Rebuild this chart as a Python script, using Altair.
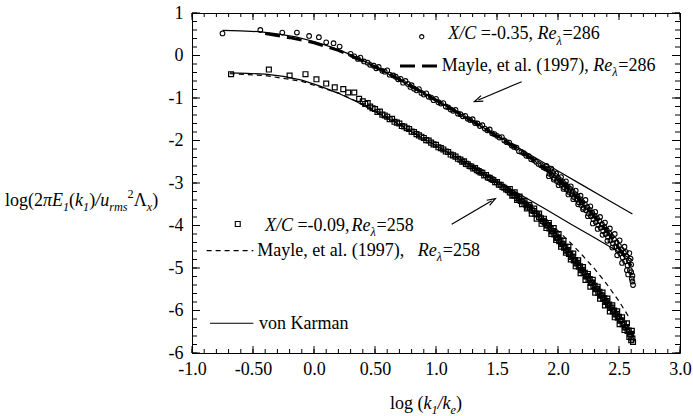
import math
import altair as alt
import pandas as pd

FONT = "Liberation Serif"
W, H = 488, 340

# ---------------- axis ticks ----------------
x_major = [-1.0, -0.5, 0.0, 0.5, 1.0, 1.5, 2.0, 2.5, 3.0]
x_tick_labels = ["-1.0", "-0.50", "0.0", "0.50", "1.0", "1.5", "2.0", "2.5", "3.0"]
x_minor = [round(-1.0 + 0.1 * i, 2) for i in range(41)]
y_major = [1, 0, -1, -2, -3, -4, -5, -6, -7]
y_tick_labels = ["1", "0", "-1", "-2", "-3", "-4", "-5", "-6", "-6"]
y_minor = [round(1.0 - 0.2 * i, 2) for i in range(41)]

# ---------------- curves ----------------
vk_hi_x = [-0.75, -0.6, -0.45, -0.3, -0.15, 0.0, 0.15, 0.3, 0.45, 0.6, 0.8, 1.0, 1.2, 1.4, 1.6, 1.8, 2.0, 2.2, 2.4, 2.61]
vk_hi_y = [0.59, 0.58, 0.56, 0.51, 0.44, 0.33, 0.19, 0.02, -0.19, -0.42, -0.73, -1.05, -1.38, -1.72, -2.05, -2.38, -2.72, -3.05, -3.38, -3.73]
vk_lo_x = [-0.69, -0.55, -0.4, -0.25, -0.1, 0.05, 0.2, 0.35, 0.5, 0.7, 0.9, 1.1, 1.3, 1.5, 1.7, 1.9, 2.1, 2.3, 2.45, 2.61]
vk_lo_y = [-0.41, -0.42, -0.44, -0.49, -0.58, -0.72, -0.89, -1.09, -1.32, -1.63, -1.96, -2.29, -2.62, -2.96, -3.29, -3.62, -3.96, -4.29, -4.54, -4.81]
mayle_hi_x = [-0.40, -0.2, 0.0, 0.2, 0.4, 0.6, 0.8, 1.0, 1.2, 1.4, 1.6, 1.8, 2.0, 2.2, 2.4, 2.6]
mayle_hi_y = [0.52, 0.42, 0.30, 0.12, -0.13, -0.41, -0.72, -1.05, -1.38, -1.72, -2.08, -2.46, -2.90, -3.45, -4.12, -4.95]
mayle_lo_x = [-0.69, -0.4, -0.1, 0.2, 0.5, 0.8, 1.1, 1.4, 1.7, 1.9, 2.0, 2.1, 2.2, 2.3, 2.4, 2.5, 2.58]
mayle_lo_y = [-0.43, -0.47, -0.61, -0.88, -1.28, -1.78, -2.28, -2.80, -3.34, -3.88, -4.12, -4.40, -4.70, -5.02, -5.38, -5.78, -6.15]

# ---------------- measured spectra ----------------
circles = [
    [-0.75, 0.52], [-0.44, 0.60], [-0.26, 0.54], [-0.14, 0.54], [-0.04, 0.46], [0.04, 0.43], [0.10, 0.31],
    [0.16, 0.29], [0.21, 0.21], [0.30, 0.04],
    [0.33, -0.02], [0.36, -0.08], [0.38, -0.05], [0.41, -0.14], [0.44, -0.17], [0.46, -0.22], [0.49, -0.24],
    [0.51, -0.30], [0.53, -0.27], [0.56, -0.36], [0.58, -0.38], [0.60, -0.35], [0.62, -0.45], [0.65, -0.47],
    [0.67, -0.50], [0.69, -0.56], [0.71, -0.55],
    [0.73, -0.64], [0.75, -0.60], [0.77, -0.67], [0.79, -0.74], [0.80, -0.70], [0.82, -0.78], [0.84, -0.82],
    [0.86, -0.79], [0.88, -0.88], [0.90, -0.92], [0.92, -0.89], [0.94, -0.97], [0.96, -0.99], [0.98, -1.05],
    [1.00, -1.02], [1.02, -1.10], [1.04, -1.13], [1.06, -1.12], [1.08, -1.20], [1.10, -1.22], [1.12, -1.27],
    [1.14, -1.30], [1.16, -1.28], [1.18, -1.37], [1.20, -1.38],
    [1.22, -1.43], [1.24, -1.42], [1.26, -1.49], [1.28, -1.52], [1.30, -1.50], [1.32, -1.59], [1.34, -1.60],
    [1.36, -1.66], [1.38, -1.64], [1.40, -1.72], [1.42, -1.76], [1.44, -1.74], [1.46, -1.83], [1.48, -1.85],
    [1.50, -1.89], [1.52, -1.93], [1.54, -1.92], [1.56, -2.00], [1.58, -2.04], [1.60, -2.05], [1.62, -2.12],
    [1.64, -2.15], [1.66, -2.17], [1.68, -2.25], [1.70, -2.27], [1.72, -2.30], [1.74, -2.36], [1.76, -2.37],
    [1.78, -2.44], [1.80, -2.46], [1.82, -2.50], [1.84, -2.55], [1.86, -2.58], [1.88, -2.63], [1.90, -2.66],
    [1.92, -2.68], [1.93, -2.78], [1.94, -2.72], [1.95, -2.82], [1.96, -2.76], [1.97, -2.88], [1.98, -2.83],
    [1.99, -2.95], [2.00, -2.88], [2.01, -2.99], [2.02, -2.93], [2.03, -3.04], [2.04, -2.98], [2.05, -3.10],
    [2.06, -3.03], [2.07, -3.15], [2.08, -3.08], [2.09, -3.21], [2.10, -3.14], [2.11, -3.26], [2.12, -3.20],
    [2.13, -3.33], [2.14, -3.26], [2.15, -3.38], [2.16, -3.31], [2.17, -3.45], [2.18, -3.38], [2.19, -3.52],
    [2.20, -3.45], [2.21, -3.58], [2.22, -3.50], [2.23, -3.64], [2.24, -3.57], [2.25, -3.72], [2.26, -3.63],
    [2.27, -3.78], [2.28, -3.70], [2.29, -3.85], [2.30, -3.77], [2.31, -3.92], [2.32, -3.83], [2.33, -3.99],
    [2.34, -3.90], [2.35, -4.05], [2.36, -3.97], [2.37, -4.13], [2.38, -4.04], [2.39, -4.20], [2.40, -4.11],
    [2.41, -4.27], [2.42, -4.18], [2.43, -4.35], [2.44, -4.26], [2.45, -4.42], [2.46, -4.33], [2.47, -4.50],
    [2.48, -4.40], [2.49, -4.58], [2.50, -4.48], [2.51, -4.66], [2.52, -4.56], [2.53, -4.75], [2.54, -4.64],
    [2.55, -4.84], [2.56, -4.72], [2.57, -4.94], [2.58, -4.82], [2.59, -5.05], [2.60, -4.92], [2.61, -5.18],
    [2.61, -5.32], [2.60, -5.10],
    [1.905, -2.60], [1.925, -2.84], [1.945, -2.66], [1.965, -2.92], [1.985, -2.78], [2.005, -3.05],
    [2.025, -2.86], [2.045, -3.14], [2.065, -2.96], [2.085, -3.27], [2.105, -3.08], [2.125, -3.38],
    [2.145, -3.18], [2.165, -3.50], [2.185, -3.30], [2.205, -3.62], [2.225, -3.40], [2.245, -3.78],
    [2.265, -3.55], [2.285, -3.95], [2.305, -3.68], [2.325, -4.08], [2.345, -3.80], [2.365, -4.22],
    [2.385, -3.93], [2.405, -4.36], [2.425, -4.07], [2.445, -4.52], [2.465, -4.20], [2.485, -4.70],
    [2.505, -4.35], [2.525, -4.88], [2.545, -4.50], [2.565, -5.05], [2.585, -4.65], [2.605, -5.25],
    [2.615, -5.40], [2.595, -4.78], [2.575, -5.15], [2.555, -4.62],
]

squares = [
    [-0.68, -0.44], [-0.37, -0.33], [-0.20, -0.47], [-0.07, -0.44], [0.02, -0.56], [0.10, -0.66],
    [0.17, -0.75], [0.24, -0.79], [0.28, -0.87], [0.33, -0.87], [0.37, -1.02],
    [0.40, -1.08], [0.42, -1.14], [0.44, -1.12], [0.46, -1.20], [0.48, -1.24], [0.50, -1.26], [0.52, -1.33],
    [0.54, -1.32], [0.56, -1.39], [0.58, -1.41], [0.60, -1.44], [0.62, -1.50], [0.64, -1.49], [0.66, -1.56],
    [0.68, -1.58], [0.70, -1.60], [0.72, -1.66], [0.74, -1.67], [0.76, -1.71], [0.78, -1.73], [0.80, -1.79],
    [0.82, -1.80], [0.84, -1.85], [0.86, -1.88], [0.88, -1.91], [0.90, -1.94], [0.92, -1.99], [0.94, -2.00],
    [0.96, -2.05], [0.98, -2.09], [1.00, -2.10], [1.02, -2.16], [1.04, -2.18], [1.06, -2.21], [1.08, -2.26],
    [1.10, -2.27], [1.12, -2.33], [1.14, -2.35], [1.16, -2.38], [1.18, -2.43], [1.20, -2.45],
    [1.215, -2.50], [1.23, -2.49], [1.245, -2.55], [1.26, -2.56], [1.275, -2.60], [1.29, -2.61],
    [1.305, -2.66], [1.32, -2.65], [1.335, -2.70], [1.35, -2.72], [1.365, -2.75], [1.38, -2.76],
    [1.395, -2.82], [1.41, -2.81], [1.425, -2.87], [1.44, -2.88], [1.455, -2.91], [1.47, -2.93],
    [1.485, -2.98], [1.50, -2.98], [1.515, -3.04], [1.53, -3.04], [1.545, -3.09], [1.56, -3.11],
    [1.575, -3.15], [1.59, -3.17], [1.605, -3.22], [1.62, -3.23], [1.635, -3.28], [1.65, -3.30],
    [1.665, -3.35], [1.68, -3.37], [1.695, -3.42], [1.71, -3.43], [1.725, -3.49], [1.74, -3.51],
    [1.755, -3.56], [1.77, -3.58], [1.785, -3.64], [1.80, -3.66], [1.815, -3.72], [1.83, -3.74],
    [1.845, -3.80], [1.86, -3.83], [1.875, -3.89], [1.89, -3.92],
    [1.90, -3.94], [1.91, -4.00], [1.92, -3.99], [1.93, -4.07], [1.94, -4.06], [1.95, -4.14], [1.96, -4.13],
    [1.97, -4.21], [1.98, -4.20], [1.99, -4.29], [2.00, -4.28], [2.01, -4.37], [2.02, -4.35], [2.03, -4.44],
    [2.04, -4.43], [2.05, -4.52], [2.06, -4.50], [2.07, -4.59], [2.08, -4.58], [2.09, -4.67], [2.10, -4.66],
    [2.11, -4.74], [2.12, -4.73], [2.13, -4.82], [2.14, -4.81], [2.15, -4.89], [2.16, -4.88], [2.17, -4.97],
    [2.18, -4.96], [2.19, -5.05], [2.20, -5.04], [2.21, -5.12], [2.22, -5.11], [2.23, -5.20], [2.24, -5.19],
    [2.25, -5.28], [2.26, -5.26], [2.27, -5.35], [2.28, -5.34], [2.29, -5.43], [2.30, -5.42], [2.31, -5.50],
    [2.32, -5.49], [2.33, -5.58], [2.34, -5.56], [2.35, -5.65], [2.36, -5.64], [2.37, -5.72], [2.38, -5.71],
    [2.39, -5.80], [2.40, -5.78], [2.41, -5.87], [2.42, -5.86], [2.43, -5.94], [2.44, -5.93], [2.45, -6.02],
    [2.46, -6.00], [2.47, -6.09], [2.48, -6.08], [2.49, -6.17], [2.50, -6.15], [2.51, -6.24], [2.52, -6.23],
    [2.53, -6.32], [2.54, -6.31], [2.55, -6.40], [2.56, -6.39], [2.57, -6.48], [2.58, -6.47], [2.59, -6.56],
    [2.60, -6.55], [2.61, -6.66], [2.60, -6.70],
    [1.605, -3.14], [1.625, -3.30], [1.645, -3.22], [1.665, -3.40], [1.685, -3.32], [1.705, -3.50],
    [1.725, -3.42], [1.745, -3.60], [1.765, -3.52], [1.785, -3.72], [1.805, -3.60], [1.825, -3.84],
    [1.845, -3.72], [1.865, -3.96], [1.885, -3.84], [1.905, -4.06], [1.925, -3.94], [1.945, -4.20],
    [1.965, -4.06], [1.985, -4.34], [2.005, -4.20], [2.025, -4.50], [2.045, -4.36], [2.065, -4.64],
    [2.085, -4.50], [2.105, -4.80], [2.125, -4.66], [2.145, -4.96], [2.165, -4.82], [2.185, -5.12],
    [2.205, -4.98], [2.225, -5.28], [2.245, -5.14], [2.265, -5.44], [2.285, -5.28], [2.305, -5.58],
    [2.325, -5.44], [2.345, -5.72], [2.365, -5.58], [2.385, -5.88], [2.405, -5.72], [2.425, -6.02],
    [2.445, -5.88], [2.465, -6.16], [2.485, -6.02], [2.505, -6.32], [2.525, -6.16], [2.545, -6.46],
    [2.565, -6.30], [2.585, -6.62], [2.605, -6.48], [2.615, -6.74],
]

# ---------------- in-plot legend / annotations (data coordinates) ----------------
legend_circle = [0.883, 0.442]
legend_square = [-0.625, -3.965]
legend_mayle_hi = [0.705, 1.008, -0.247]
legend_mayle_lo = [-0.880, -0.497, -4.590]
legend_vk = [-0.852, -0.497, -6.300]
arrow_hi = [1.702, -0.616, 1.347, -1.047]   # tail x, tail y, head x, head y
arrow_lo = [1.129, -3.972, 1.457, -3.416]
row1_anchor = [1.101, 0.500]
row2_anchor = [1.047, -0.247]
row3_anchor = [-0.402, -4.010]
row4_anchor = [-0.465, -4.600]
row5_anchor = [-0.451, -6.320]

row1 = [("X/C", "i"), (0.25, "gap"), ("=-0.35,", "r"), (0.25, "gap"), ("Re", "i"), ("λ", "si"), ("=286", "r")]
row2 = [("Mayle, et al. (1997),", "r"), (0.25, "gap"), ("Re", "i"), ("λ", "si"), ("=286", "r")]
row3 = [("X/C", "i"), (0.25, "gap"), ("=-0.09,", "r"), (0.1, "gap"), ("Re", "i"), ("λ", "si"), ("=258", "r")]
row4 = [("Mayle, et al. (1997),", "r"), (0.75, "gap"), ("Re", "i"), ("λ", "si"), ("=258", "r")]
row5 = [("von Karman", "r")]
ytitle = [("log(2", "r"), ("π", "i"), ("E", "i"), ("1", "si"), ("(", "r"), ("k", "i"), ("1", "si"),
          (")", "r"), ("/", "i"), ("u", "i"), ("rms", "si"), ("2", "sr"), ("Λ", "r"), ("x", "si"), (")", "r")]
xtitle = [("log", "r"), (0.25, "gap"), ("(", "r"), ("k", "i"), ("1", "si"), ("/", "i"), ("k", "i"),
          ("e", "si"), (")", "r")]

# ---------------- helpers ----------------
REG_W = {" ": 250, "(": 333, ")": 333, ",": 250, "-": 333, ".": 250, "/": 278, "=": 564,
         "M": 889, "K": 722, "a": 444, "e": 444, "l": 278, "m": 778, "n": 500, "o": 500,
         "r": 333, "t": 278, "v": 500, "y": 500, "g": 500, "k": 500, "Λ": 722, "π": 549}
IT_W = {"X": 611, "/": 278, "C": 667, "R": 611, "e": 444, "k": 444, "λ": 500, "E": 611,
        "u": 500, "r": 389, "m": 722, "s": 389, "x": 444, "π": 500, "(": 333, ")": 333}


def text_width(s, italic, size):
    table = IT_W if italic else REG_W
    return sum(table.get(ch, 500) for ch in s) / 1000.0 * size


xs = alt.Scale(domain=[-1, 3], nice=False, zero=False)
ys = alt.Scale(domain=[-7, 1], nice=False, zero=False)
x_lab_expr = "[" + ",".join("'%s'" % s for s in x_tick_labels) + "][round((datum.value + 1) * 2)]"
y_lab_expr = "[" + ",".join("'%s'" % s for s in y_tick_labels) + "][round(1 - datum.value)]"
x_axis = alt.Axis(values=x_major, labelExpr=x_lab_expr, ticks=False, domain=False, grid=False,
                  title=None, labelFont=FONT, labelFontSize=18, labelColor="black", labelPadding=7,
                  labelFlush=False, labelOverlap=False)
y_axis = alt.Axis(values=y_major, labelExpr=y_lab_expr, ticks=False, domain=False, grid=False,
                  title=None, labelFont=FONT, labelFontSize=18, labelColor="black", labelPadding=9,
                  labelFlush=False, labelOverlap=False)
X = alt.X("x:Q", scale=xs, axis=x_axis)
Y = alt.Y("y:Q", scale=ys, axis=y_axis)

layers = []

# tick marks (inward)
for vals, length in ((x_minor, 4), (x_major, 7)):
    d = pd.DataFrame({"x": vals})
    layers.append(alt.Chart(d).mark_rule(color="black", strokeWidth=1).encode(
        x=X, y=alt.value(H), y2=alt.value(H - length)))
    layers.append(alt.Chart(d).mark_rule(color="black", strokeWidth=1).encode(
        x=X, y=alt.value(0), y2=alt.value(length)))
for vals, length in ((y_minor, 5), (y_major, 8)):
    d = pd.DataFrame({"y": vals})
    layers.append(alt.Chart(d).mark_rule(color="black", strokeWidth=1).encode(
        y=Y, x=alt.value(0), x2=alt.value(length)))
    layers.append(alt.Chart(d).mark_rule(color="black", strokeWidth=1).encode(
        y=Y, x=alt.value(W), x2=alt.value(W - length)))


def line(xv, yv, **kw):
    return alt.Chart(pd.DataFrame({"x": xv, "y": yv})).mark_line(color="black", **kw).encode(x=X, y=Y)


layers.append(line(mayle_hi_x, mayle_hi_y, strokeWidth=3, strokeDash=[15, 7]))
layers.append(line(mayle_lo_x, mayle_lo_y, strokeWidth=1.2, strokeDash=[5, 4]))
layers.append(line(vk_hi_x, vk_hi_y, strokeWidth=1.2))
layers.append(line(vk_lo_x, vk_lo_y, strokeWidth=1.2))

circ_df = pd.DataFrame(circles, columns=["x", "y"])
sq_df = pd.DataFrame(squares, columns=["x", "y"])
layers.append(alt.Chart(circ_df).mark_point(shape="circle", filled=False, size=22, strokeWidth=1.1,
                                            color="black", opacity=1).encode(x=X, y=Y))
layers.append(alt.Chart(sq_df).mark_point(shape="square", filled=False, size=24, strokeWidth=1.2,
                                          color="black", opacity=1).encode(x=X, y=Y))

# legend symbols
layers.append(alt.Chart(pd.DataFrame({"x": [legend_circle[0]], "y": [legend_circle[1]]})).mark_point(
    shape="circle", filled=False, size=18, strokeWidth=1.1, color="black", opacity=1).encode(x=X, y=Y))
layers.append(alt.Chart(pd.DataFrame({"x": [legend_square[0]], "y": [legend_square[1]]})).mark_point(
    shape="square", filled=False, size=24, strokeWidth=1.1, color="black", opacity=1).encode(x=X, y=Y))


def seg(spec, **kw):
    d = pd.DataFrame({"x": [spec[0]], "x2": [spec[1]], "y": [spec[2]]})
    return alt.Chart(d).mark_rule(color="black", **kw).encode(x=X, x2="x2:Q", y=Y)


layers.append(seg(legend_mayle_hi, strokeWidth=3, strokeDash=[15, 7]))
layers.append(seg(legend_mayle_lo, strokeWidth=1.2, strokeDash=[5, 4]))
layers.append(seg(legend_vk, strokeWidth=1.2))


def arrow(spec):
    tx, ty, hx, hy = spec
    d = pd.DataFrame({"x": [tx], "y": [ty], "x2": [hx], "y2": [hy]})
    out = [alt.Chart(d).mark_rule(color="black", strokeWidth=1.2).encode(x=X, y=Y, x2="x2:Q", y2="y2:Q")]
    dxp = (hx - tx) * W / 4.0
    dyp = -(hy - ty) * H / 8.0
    ang = math.degrees(math.atan2(dxp, -dyp)) % 360
    hd = pd.DataFrame({"x": [hx], "y": [hy]})
    out.append(alt.Chart(hd).mark_point(shape="M-0.7,1L0,-1L0.7,1", filled=False, size=70, strokeWidth=1.2,
                                        color="black", opacity=1, angle=ang).encode(x=X, y=Y))
    return out


layers += arrow(arrow_hi)
layers += arrow(arrow_lo)


def rich_text(pieces, size, anchor=None, px=None, py=None, center=False):
    out = []
    total = 0.0
    items = []
    for txt, kind in pieces:
        if kind == "gap":
            total += txt * size
            continue
        italic = kind in ("i", "si")
        small = kind in ("si", "sr")
        fs = size * 0.68 if small else size
        dy = size * 0.36 if kind == "si" else (-size * 0.38 if kind == "sr" else 0)
        items.append((txt, kind, total, dy, fs))
        total += text_width(txt, italic, fs)
    shift = -total / 2.0 if center else 0.0
    for txt, kind, cx, dy, fs in items:
        italic = kind in ("i", "si")
        mk = dict(text=txt, align="left", baseline="middle", dx=cx + shift, dy=dy, font=FONT,
                  fontSize=fs, fontStyle="italic" if italic else "normal", color="black")
        if anchor is not None:
            d = pd.DataFrame({"x": [anchor[0]], "y": [anchor[1]]})
            out.append(alt.Chart(d).mark_text(**mk).encode(x=X, y=Y))
        else:
            d = pd.DataFrame({"k": [0]})
            out.append(alt.Chart(d).mark_text(**mk).encode(x=alt.value(px), y=alt.value(py)))
    return out


LEG = 18
layers += rich_text(row1, LEG, anchor=row1_anchor)
layers += rich_text(row2, LEG, anchor=row2_anchor)
layers += rich_text(row3, LEG, anchor=row3_anchor)
layers += rich_text(row4, LEG, anchor=row4_anchor)
layers += rich_text(row5, LEG, anchor=row5_anchor)
layers += rich_text(ytitle, 18, px=-187, py=188)
layers += rich_text(xtitle, 18, px=W / 2 - 10, py=391, center=True)

chart = alt.layer(*layers).properties(
    width=W, height=H,
    autosize=alt.AutoSizeParams(type="none"),
    padding={"left": 192, "top": 13, "right": 13, "bottom": 63},
    background="white",
).configure_view(stroke="black", strokeWidth=1)

chart.save("out.html", embed_options={"renderer": "svg", "actions": False})
